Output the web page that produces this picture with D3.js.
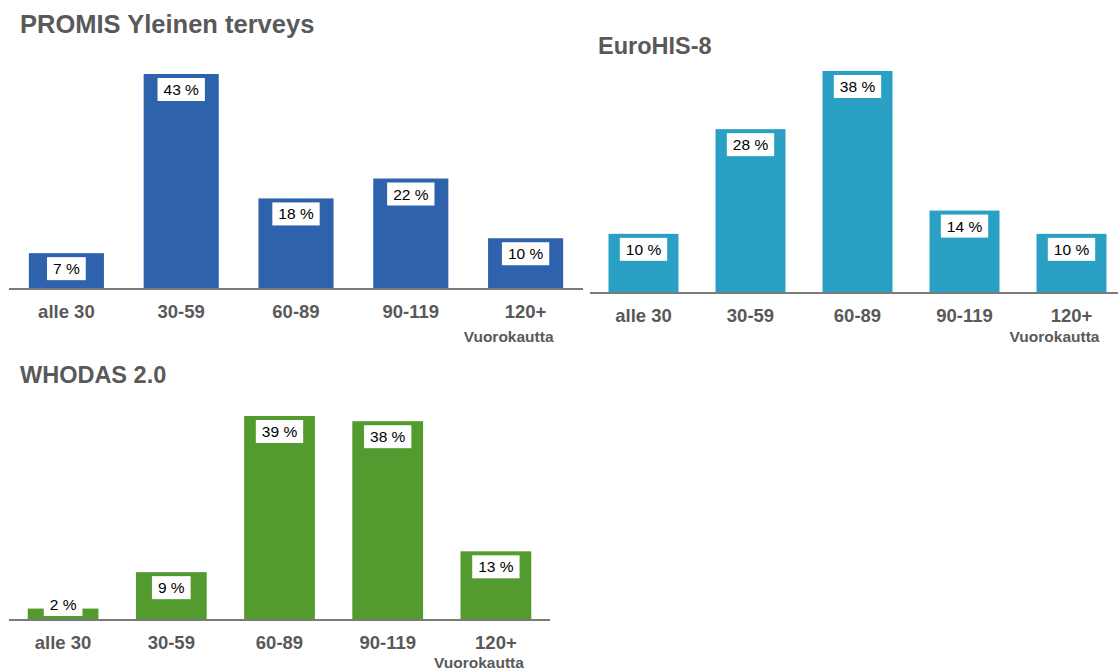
<!DOCTYPE html>
<html>
<head>
<meta charset="utf-8">
<script src="https://cdn.jsdelivr.net/npm/d3@7"></script>
<style>
  html, body { margin: 0; padding: 0; background: #fff; }
  svg { display: block; }
</style>
</head>
<body>
<svg id="chart" width="1118" height="672"></svg>
<script>
// ---- Data ----
const categories = ["alle 30", "30-59", "60-89", "90-119", "120+"];
const unitLabel = "Vuorokautta";

const promisTitle = "PROMIS Yleinen terveys";
const promisValues = [7, 43, 18, 22, 10];

const eurohisTitle = "EuroHIS-8";
const eurohisValues = [10, 28, 38, 14, 10];

const whodasTitle = "WHODAS 2.0";
const whodasValues = [2, 9, 39, 38, 13];

// ---- Layout (not data) ----
const panels = [
  { title: promisTitle, values: promisValues, color: "#2f62ad",
    titleX: 20, titleY: 33, titleSize: 25.5,
    x0: 9, x1: 583, base: 288, topY: 74, axisEnd: 583, unitDy: 54 },
  { title: eurohisTitle, values: eurohisValues, color: "#2aa1c4",
    titleX: 598, titleY: 54, titleSize: 23.5,
    x0: 590, x1: 1125, base: 292, topY: 71, axisEnd: 1125, unitDy: 50 },
  { title: whodasTitle, values: whodasValues, color: "#539b2f",
    titleX: 20, titleY: 383, titleSize: 23.5,
    x0: 9, x1: 550, base: 619, topY: 416, axisEnd: 550, unitDy: 49 }
];

const svg = d3.select("#chart");
const FONT = "'Liberation Sans', Arial, Helvetica, sans-serif";
const GREY = "#595959";

panels.forEach(p => {
  const g = svg.append("g");
  const x = d3.scaleBand().domain(categories).range([p.x0, p.x1])
    .paddingInner(0.346).paddingOuter(0.173);
  const y = d3.scaleLinear().domain([0, d3.max(p.values)]).range([p.base, p.topY]);
  const data = categories.map((c, i) => ({ c, v: p.values[i] }));

  g.append("text")
    .attr("x", p.titleX).attr("y", p.titleY)
    .attr("font-family", FONT).attr("font-weight", "bold")
    .attr("font-size", p.titleSize).attr("fill", GREY)
    .text(p.title);

  g.selectAll("rect.bar").data(data).join("rect")
    .attr("class", "bar")
    .attr("x", d => x(d.c)).attr("width", x.bandwidth())
    .attr("y", d => y(d.v)).attr("height", d => p.base - y(d.v))
    .attr("fill", p.color);

  // axis line
  g.append("line")
    .attr("x1", p.x0).attr("x2", p.axisEnd)
    .attr("y1", p.base + 1).attr("y2", p.base + 1)
    .attr("stroke", "#7a7a7a").attr("stroke-width", 2.2);

  // value labels with white boxes
  const lab = g.selectAll("g.lab").data(data).join("g").attr("class", "lab");
  lab.each(function(d) {
    const gg = d3.select(this);
    const t = gg.append("text")
      .attr("font-family", FONT).attr("font-size", 15.5).attr("fill", "#000")
      .attr("text-anchor", "middle")
      .text(d.v + " %");
    const w = t.node().getComputedTextLength() + 12;
    const h = 23;
    let top = y(d.v) + 4;
    if (top + h > p.base - 3) top = p.base - 3 - h;
    const cx = x(d.c) + x.bandwidth() / 2;
    gg.insert("rect", "text")
      .attr("x", cx - w / 2).attr("y", top).attr("width", w).attr("height", h)
      .attr("fill", "#fff");
    t.attr("x", cx).attr("y", top + h / 2 + 5.5);
  });

  // category labels
  g.selectAll("text.cat").data(categories).join("text")
    .attr("class", "cat")
    .attr("x", c => x(c) + x.bandwidth() / 2)
    .attr("y", p.base + 30)
    .attr("text-anchor", "middle")
    .attr("font-family", FONT).attr("font-weight", "bold")
    .attr("font-size", 18.5).attr("fill", GREY)
    .text(c => c);

  const last = categories[categories.length - 1];
  g.append("text")
    .attr("x", x(last) + x.bandwidth() / 2 - 17)
    .attr("y", p.base + p.unitDy)
    .attr("text-anchor", "middle")
    .attr("font-family", FONT).attr("font-weight", "bold")
    .attr("font-size", 15.5).attr("fill", GREY)
    .text(unitLabel);
});
</script>
</body>
</html>
